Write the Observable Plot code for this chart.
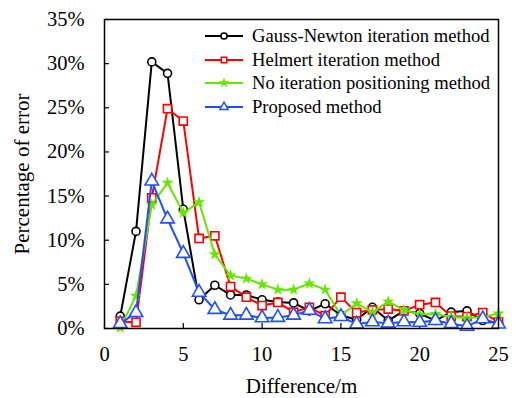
<!DOCTYPE html>
<html><head><meta charset="utf-8">
<script src="https://cdn.jsdelivr.net/npm/d3@7"></script>
<script src="https://cdn.jsdelivr.net/npm/@observablehq/plot@0.6"></script>
<style>
body{margin:0;background:#fff;}
#wrap{position:relative;width:516px;height:398px;font-family:"Liberation Serif","DejaVu Serif","Noto Serif","Times New Roman",Times,serif;}
.row{position:absolute;left:204px;height:20px;display:flex;align-items:center;font-size:18.6px;color:#000;white-space:nowrap;}
.row svg{margin-right:8px;}
</style></head><body><div id="wrap"></div>
<script>
const difference = [1,2,3,4,5,6,7,8,9,10,11,12,13,14,15,16,17,18,19,20,21,22,23,24,25];
const gaussNewton = [1.4,11.0,30.2,28.9,13.5,3.25,4.9,3.8,3.8,3.25,3.0,2.9,2.0,2.8,1.5,1.0,2.4,0.9,2.0,1.7,0.9,1.85,2.0,0.9,0.6];
const helmert = [0.8,0.7,14.8,24.9,23.5,10.2,10.5,4.75,3.55,2.6,2.95,1.85,2.4,1.45,3.55,1.8,2.1,2.2,2.0,2.7,2.95,1.4,1.35,1.8,0.75];
const noIteration = [0.1,3.7,14.0,16.5,13.1,14.3,8.4,6.0,5.65,5.0,4.4,4.4,5.1,4.4,1.5,2.85,1.85,3.05,2.1,1.6,1.65,1.3,1.2,1.3,1.7];
const proposed = [0.55,1.8,16.7,12.4,8.5,4.1,2.15,1.5,1.5,1.2,1.25,1.5,2.05,1.1,1.35,0.5,0.75,0.6,0.75,0.7,0.9,0.55,0.25,1.1,0.5];
const seriesNames = ["Gauss-Newton iteration method","Helmert iteration method","No iteration positioning method","Proposed method"];
const xTicks = [0,5,10,15,20,25];
const yTicks = [0,5,10,15,20,25,30,35];

const FONT = '"Liberation Serif","DejaVu Serif","Noto Serif","Times New Roman",Times,serif';
const styles = [
  {stroke:"#000000", symbol:"circle", r:4, fill:"white"},
  {stroke:"#ff0000", symbol:"square", r:4.6, fill:"white"},
  {stroke:"#66e600", symbol:"star", r:2.3, fill:"#66e600"},
  {stroke:"#1f4fff", symbol:"triangle", r:5, fill:"white"}
];
const values = [gaussNewton, helmert, noIteration, proposed];
const tables = values.map(v => difference.map((d,i) => ({x:d, y:v[i]})));

const marks = [];
tables.forEach((t,k) => {
  const s = styles[k];
  marks.push(Plot.line(t, {x:"x", y:"y", stroke:s.stroke, strokeWidth:2}));
  marks.push(Plot.dot(t, {x:"x", y:"y", symbol:()=>s.symbol, r:s.r, stroke:s.stroke, fill:s.fill, strokeWidth:1.6}));
});

const chart = Plot.plot({
  width:516, height:398,
  marginLeft:104, marginRight:18, marginTop:19, marginBottom:70,
  style:{fontFamily:FONT, fontSize:"20px", color:"#000", background:"#fff", overflow:"visible"},
  symbol:{type:"identity"},
  x:{domain:[0,25]},
  y:{domain:[0,35]},
  marks:[
    Plot.axisX(xTicks, {tickSize:-5, tickPadding:23, fontSize:20.5, fontFamily:FONT, label:"Difference/m", labelAnchor:"center", labelArrow:"none", labelOffset:64, strokeWidth:1.2}),
    Plot.axisY(yTicks, {tickSize:-5, tickPadding:25, fontSize:20.5, fontFamily:FONT, tickFormat:d => d + "%", label:"Percentage of error", labelAnchor:"center", labelArrow:"none", labelOffset:90, strokeWidth:1.2}),
    ...marks,
    Plot.frame({stroke:"#000", strokeWidth:1.5})
  ]
});
chart.querySelectorAll('[aria-label="x-axis label"] text, [aria-label="y-axis label"] text').forEach(t => t.setAttribute("font-size", "21"));
const wrap = document.getElementById("wrap");
wrap.appendChild(chart);

const rowTops = [26, 49.5, 73, 96.5];
seriesNames.forEach((name,k) => {
  const s = styles[k];
  const row = document.createElement("div");
  row.className = "row";
  row.style.top = rowTops[k] + "px";
  const svg = d3.create("svg").attr("width",40).attr("height",14);
  svg.append("line").attr("x1",1).attr("x2",39).attr("y1",7).attr("y2",7).attr("stroke",s.stroke).attr("stroke-width",2);
  const sym = {circle:d3.symbolCircle, square:d3.symbolSquare, star:d3.symbolStar, triangle:d3.symbolTriangle}[s.symbol];
  svg.append("path").attr("transform","translate(20,7)").attr("d", d3.symbol(sym, (s.symbol==="star"?12:30))())
    .attr("stroke",s.stroke).attr("fill",s.fill).attr("stroke-width",1.5);
  row.appendChild(svg.node());
  const span = document.createElement("span");
  span.textContent = name;
  row.appendChild(span);
  wrap.appendChild(row);
});
</script>
</body></html>
